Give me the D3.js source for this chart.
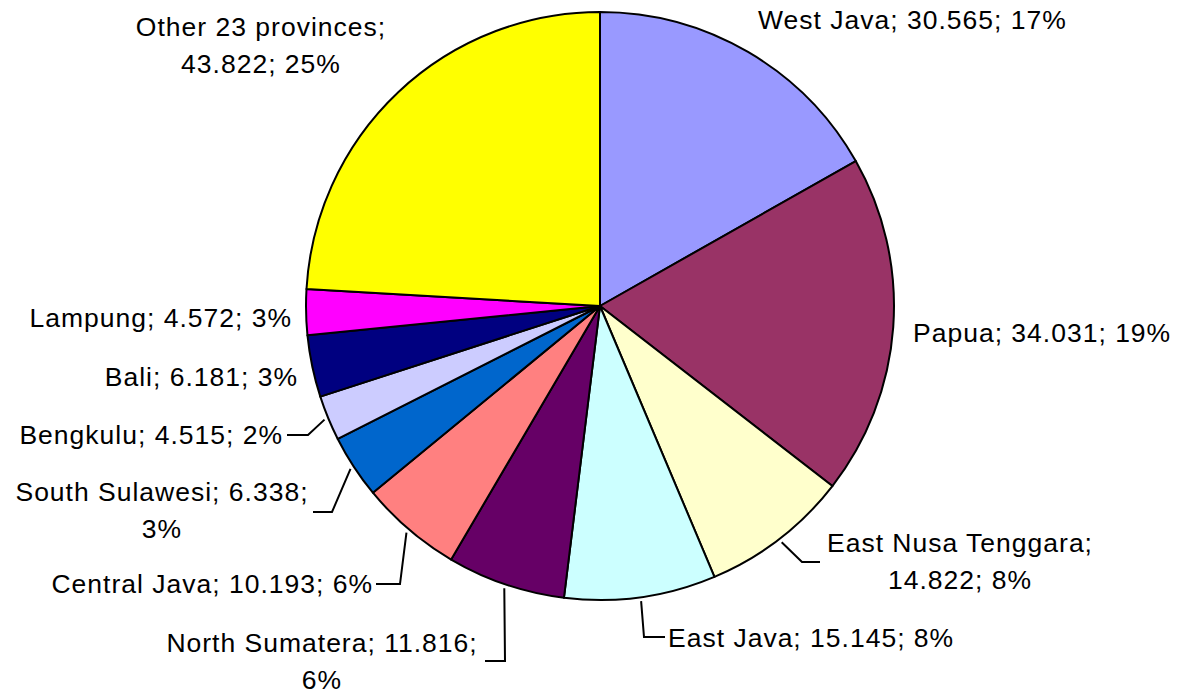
<!DOCTYPE html>
<html><head><meta charset="utf-8">
<script src="https://cdn.jsdelivr.net/npm/d3@7"></script>
<style>body{margin:0;background:#fff}svg{display:block}</style>
</head><body>
<svg id="chart" width="1180" height="694"></svg>
<script>
const categories = ["West Java","Papua","East Nusa Tenggara","East Java","North Sumatera","Central Java","South Sulawesi","Bengkulu","Bali","Lampung","Other 23 provinces"];
const values = [30.565,34.031,14.822,15.145,11.816,10.193,6.338,4.515,6.181,4.572,43.822];
const percentLabels = ["17%","19%","8%","8%","6%","6%","3%","2%","3%","3%","25%"];
const colors = ["#9999FF","#993366","#FFFFCC","#CCFFFF","#660066","#FF8080","#0066CC","#CCCCFF","#000080","#FF00FF","#FFFF00"];

// label layout (split: 0 one line, 1 break after name, 2 break after value)
const labelLayout = [
  {split:0, anchor:"start",  x:758, y:29},
  {split:0, anchor:"start",  x:913, y:342},
  {split:1, anchor:"middle", x:960, y:552, elbow:[802,562], end:820},
  {split:0, anchor:"start",  x:668, y:647, elbow:[644,637], end:665},
  {split:2, anchor:"middle", x:322, y:652, elbow:[505,661], end:485},
  {split:0, anchor:"end",    x:373, y:593, elbow:[400,584], end:376},
  {split:2, anchor:"middle", x:162, y:501, elbow:[332,512], end:313},
  {split:0, anchor:"end",    x:283, y:444, elbow:[308,435], end:287},
  {split:0, anchor:"end",    x:298, y:386},
  {split:0, anchor:"end",    x:292, y:327},
  {split:1, anchor:"middle", x:261, y:36}
];

const cx = 600, cy = 306, R = 294, lineH = 36.5;
const svg = d3.select("#chart");
const g = svg.append("g").attr("transform", `translate(${cx},${cy})`);

const pie = d3.pie().sort(null).value(d => d);
const arcs = pie(values);
const arc = d3.arc().innerRadius(0).outerRadius(R);

g.selectAll("path.slice").data(arcs).enter().append("path")
  .attr("class","slice")
  .attr("d", arc)
  .attr("fill", (d,i) => colors[i])
  .attr("stroke", "#000")
  .attr("stroke-width", 2)
  .attr("stroke-linejoin","round");

const fmt = v => v.toFixed(3);
const labels = svg.append("g")
  .attr("font-family", "'Liberation Sans', Arial, sans-serif")
  .attr("font-size", 26.5)
  .attr("fill", "#000");

arcs.forEach((d, i) => {
  const L = labelLayout[i];
  const name = categories[i], val = fmt(values[i]), pct = percentLabels[i];
  let lines;
  if (L.split === 1) lines = [name + ";", val + "; " + pct];
  else if (L.split === 2) lines = [name + "; " + val + ";", pct];
  else lines = [name + "; " + val + "; " + pct];
  const t = labels.append("text")
    .attr("text-anchor", L.anchor)
    .attr("letter-spacing", "1px")
    .attr("x", L.x).attr("y", L.y);
  lines.forEach((ln, k) => {
    t.append("tspan").attr("x", L.x).attr("y", L.y + k * lineH).text(ln);
  });
  if (L.elbow) {
    const a = (d.startAngle + d.endAngle) / 2;
    const r0 = R + 4;
    const sx = cx + r0 * Math.sin(a), sy = cy - r0 * Math.cos(a);
    svg.append("polyline")
      .attr("points", `${sx},${sy} ${L.elbow[0]},${L.elbow[1]} ${L.end},${L.elbow[1]}`)
      .attr("fill", "none")
      .attr("stroke", "#000")
      .attr("stroke-width", 2);
  }
});
</script>
</body></html>
